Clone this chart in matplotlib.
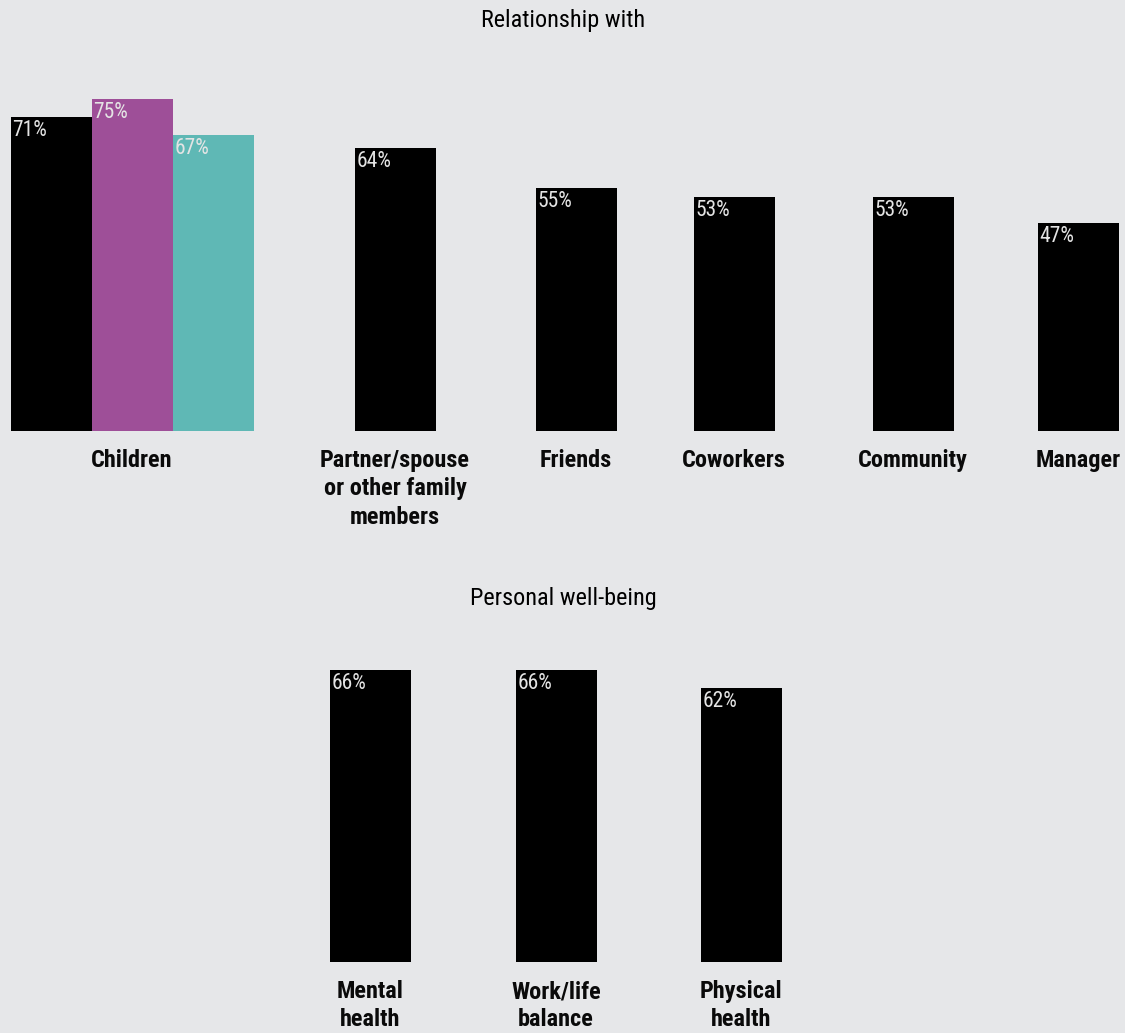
import matplotlib
matplotlib.use('Agg')
import matplotlib.pyplot as plt

# Relationship panel
rel_categories = ['Children', 'Partner/spouse\nor other family\nmembers', 'Friends',
                  'Coworkers', 'Community', 'Manager']
children_values = [71, 75, 67]
children_colors = ['#000000', '#9e4f98', '#5fb8b5']
rel_values = [64, 55, 53, 53, 47]

# Well-being panel
wb_categories = ['Mental\nhealth', 'Work/life\nbalance', 'Physical\nhealth']
wb_values = [66, 66, 62]

BG = '#e6e7e9'
W, H = 1125, 1033
BAR_W = 81
PX_PER_PCT = 4.42
COND = ['Roboto Condensed', 'Liberation Sans Narrow', 'DejaVu Sans']

# category centres in pixels
rel_pos = [132, 395, 576, 734, 913, 1078]
wb_pos = [370, 556, 741]

fig = plt.figure(figsize=(W / 100, H / 100), dpi=100, facecolor=BG)


def make_axes(baseline_px, top_px):
    ax = fig.add_axes([0, 1 - baseline_px / H, 1, (baseline_px - top_px) / H])
    ax.set_facecolor(BG)
    ax.set_xlim(0, W)
    ax.set_ylim(0, (baseline_px - top_px) / PX_PER_PCT)
    ax.axis('off')
    return ax


def value_label(ax, x_left, v):
    ax.annotate(f'{v}%', xy=(x_left, v), xytext=(1.5, -2), textcoords='offset points',
                ha='left', va='top', color='#e4e4e4', fontsize=15.5,
                family=COND)


def cat_label(ax, x, lab, pad):
    ax.annotate(lab, xy=(x, 0), xytext=(0, pad), textcoords='offset points',
                ha='center', va='top', fontsize=17.5, fontweight='bold',
                family=COND, linespacing=1.3, color='#0a0a0a')


ax1 = make_axes(431, 70)
offsets = [-BAR_W, 0, BAR_W]
for v, c, off in zip(children_values, children_colors, offsets):
    x = rel_pos[0] + off
    ax1.bar(x, v, width=BAR_W, color=c, linewidth=0)
    value_label(ax1, x - BAR_W / 2, v)
for x, v in zip(rel_pos[1:], rel_values):
    ax1.bar(x, v, width=BAR_W, color='#000000', linewidth=0)
    value_label(ax1, x - BAR_W / 2, v)
for x, lab in zip(rel_pos, rel_categories):
    cat_label(ax1, x, lab, -13)

ax2 = make_axes(962, 640)
for x, v in zip(wb_pos, wb_values):
    ax2.bar(x, v, width=BAR_W, color='#000000', linewidth=0)
    value_label(ax2, x - BAR_W / 2, v)
for x, lab in zip(wb_pos, wb_categories):
    cat_label(ax2, x, lab, -13)

fig.text(563 / W, 1 - 20 / H, 'Relationship with', ha='center', va='center',
         fontsize=17.5, family=COND, color='#000000')
fig.text(563 / W, 1 - 598 / H, 'Personal well-being', ha='center', va='center',
         fontsize=17.5, family=COND, color='#000000')

fig.savefig('out.png', dpi=100, facecolor=BG)
